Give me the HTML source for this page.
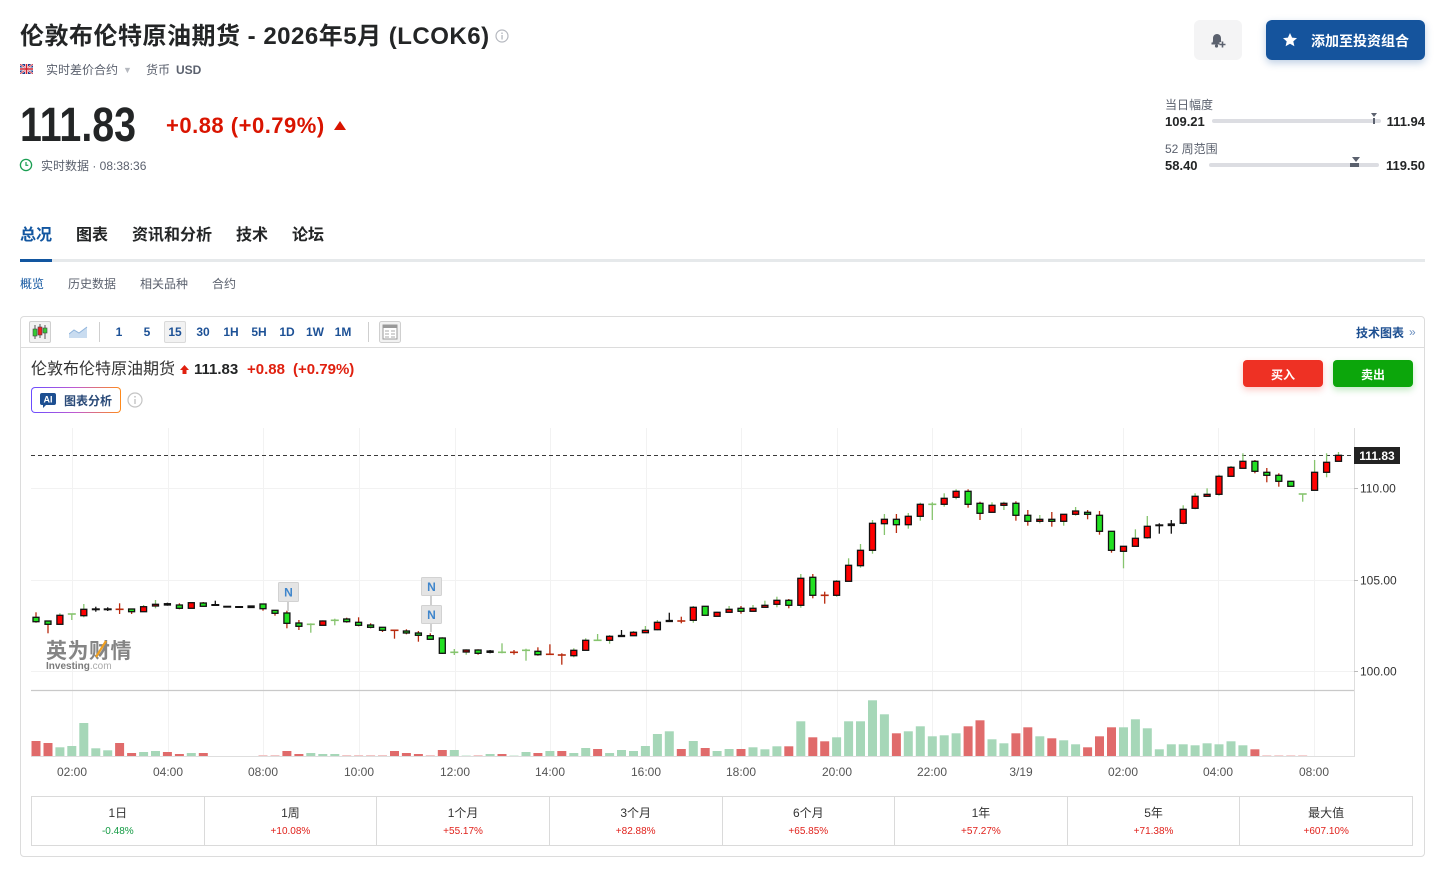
<!DOCTYPE html>
<html><head><meta charset="utf-8">
<style>
*{margin:0;padding:0;box-sizing:border-box}
html,body{width:1441px;height:869px;overflow:hidden;background:#fff}
body{font-family:"Liberation Sans","Noto Sans CJK SC",sans-serif;color:#232526;position:relative}
.t{position:absolute;white-space:nowrap;line-height:1}
.b{font-weight:bold}
.g{color:#5b616e}
.iv{position:absolute;top:326px;font-size:12px;font-weight:bold;color:#1d5196;transform:translateX(-50%);line-height:1}
.cell{flex:1;border-left:1px solid #dadada;text-align:center;position:relative}
.cell:first-child{border-left:none}
.cell .l{position:absolute;left:0;right:0;top:10px;font-size:12px;line-height:1;color:#333}
.cell .v{position:absolute;left:0;right:0;top:30px;font-size:10px;line-height:1;color:#e0211b}
</style></head><body>

<!-- Header -->
<div class="t b" style="left:20px;top:25px;font-size:24px;letter-spacing:0.5px;color:#232526">伦敦布伦特原油期货 - 2026年5月 (LCOK6)</div>
<svg style="position:absolute;left:495px;top:29px" width="14" height="14"><circle cx="7" cy="7" r="6" fill="none" stroke="#b5b8bf" stroke-width="1.2"/><rect x="6.4" y="6" width="1.3" height="4.5" fill="#b5b8bf"/><circle cx="7" cy="4.2" r="0.8" fill="#b5b8bf"/></svg>

<svg style="position:absolute;left:20px;top:64px" width="13" height="10" viewBox="0 0 13 10"><rect width="13" height="10" fill="#1f3f8f"/><path d="M0 0L13 10M13 0L0 10" stroke="#fff" stroke-width="2"/><path d="M0 0L13 10M13 0L0 10" stroke="#d0202f" stroke-width="0.8"/><path d="M6.5 0V10M0 5H13" stroke="#fff" stroke-width="3"/><path d="M6.5 0V10M0 5H13" stroke="#d0202f" stroke-width="1.6"/></svg>
<div class="t g" style="left:46px;top:64px;font-size:12px">实时差价合约</div>
<div class="t" style="left:123px;top:66px;font-size:9px;color:#b5b8bf">▼</div>
<div class="t g" style="left:146px;top:64px;font-size:12px">货币</div>
<div class="t b g" style="left:176px;top:64px;font-size:12px">USD</div>

<div class="t b" style="left:20px;top:102px;font-size:48px;letter-spacing:0px;transform:scaleX(0.82);transform-origin:0 0;color:#232526">111.83</div>
<div class="t b" style="left:166px;top:115px;font-size:22px;letter-spacing:0.5px;color:#d91400">+0.88 (+0.79%)</div>
<div style="position:absolute;left:334px;top:121px;width:0;height:0;border-left:6px solid transparent;border-right:6px solid transparent;border-bottom:9px solid #d91400"></div>

<svg style="position:absolute;left:19px;top:158px" width="14" height="14"><circle cx="7" cy="7" r="5.6" fill="none" stroke="#1a9e52" stroke-width="1.3"/><path d="M7 4V7.3H9.3" fill="none" stroke="#1a9e52" stroke-width="1.2"/></svg>
<div class="t g" style="left:41px;top:160px;font-size:12px">实时数据 · 08:38:36</div>

<!-- right header -->
<div style="position:absolute;left:1194px;top:20px;width:48px;height:40px;background:#f4f4f5;border-radius:6px"></div>
<svg style="position:absolute;left:1208px;top:31px" width="20" height="18" viewBox="0 0 20 18"><path d="M4 12.5C5 11.5 5 10 5 7.5C5 4.8 6.6 3 9 3C11.4 3 13 4.8 13 7.5C13 9 13 10 13.3 11L4 12.5Z" fill="#5b616e"/><rect x="3.5" y="11.5" width="8" height="2" fill="#5b616e"/><circle cx="8.5" cy="15" r="1.6" fill="#5b616e"/><path d="M14.5 10.5V16.5M11.5 13.5H17.5" stroke="#5b616e" stroke-width="1.6"/></svg>
<div style="position:absolute;left:1266px;top:20px;width:159px;height:40px;background:#15549d;border-radius:6px;box-shadow:0 3px 8px rgba(21,84,157,0.28)"></div>
<svg style="position:absolute;left:1282px;top:32px" width="16" height="16" viewBox="0 0 16 16"><path d="M8 1L10.1 5.6L15 6.1L11.3 9.4L12.4 14.3L8 11.7L3.6 14.3L4.7 9.4L1 6.1L5.9 5.6Z" fill="#fff"/></svg>
<div class="t b" style="left:1311px;top:34px;font-size:14px;color:#fff">添加至投资组合</div>

<div class="t g" style="left:1165px;top:99px;font-size:12px">当日幅度</div>
<div class="t b" style="left:1165px;top:115px;font-size:13px">109.21</div>
<div style="position:absolute;left:1212px;top:119px;width:169px;height:4px;background:#dcdde2;border-radius:2px"></div>
<div style="position:absolute;left:1373px;top:118px;width:2px;height:6px;background:#5b616e"></div>
<div style="position:absolute;left:1371px;top:113px;width:0;height:0;border-left:3px solid transparent;border-right:3px solid transparent;border-top:4px solid #5b616e"></div>
<div class="t b" style="right:16px;top:115px;font-size:13px">111.94</div>

<div class="t g" style="left:1165px;top:143px;font-size:12px">52 周范围</div>
<div class="t b" style="left:1165px;top:159px;font-size:13px">58.40</div>
<div style="position:absolute;left:1209px;top:163px;width:170px;height:4px;background:#dcdde2;border-radius:2px"></div>
<div style="position:absolute;left:1350px;top:163px;width:9px;height:4px;background:#5b616e"></div>
<div style="position:absolute;left:1352px;top:157px;width:0;height:0;border-left:4px solid transparent;border-right:4px solid transparent;border-top:5px solid #5b616e"></div>
<div class="t b" style="right:16px;top:159px;font-size:13px">119.50</div>

<!-- tabs -->
<div class="t b" style="left:20px;top:228px;font-size:16px;color:#1256a0">总况</div>
<div class="t b" style="left:76px;top:228px;font-size:16px">图表</div>
<div class="t b" style="left:132px;top:228px;font-size:16px">资讯和分析</div>
<div class="t b" style="left:236px;top:228px;font-size:16px">技术</div>
<div class="t b" style="left:292px;top:228px;font-size:16px">论坛</div>
<div style="position:absolute;left:20px;top:259px;width:1405px;height:3px;background:#e6e9eb"></div>
<div style="position:absolute;left:20px;top:259px;width:32px;height:3px;background:#1256a0"></div>

<div class="t" style="left:20px;top:278px;font-size:12px;color:#1256a0">概览</div>
<div class="t g" style="left:68px;top:278px;font-size:12px">历史数据</div>
<div class="t g" style="left:140px;top:278px;font-size:12px">相关品种</div>
<div class="t g" style="left:212px;top:278px;font-size:12px">合约</div>

<!-- chart container -->
<div style="position:absolute;left:20px;top:316px;width:1405px;height:541px;border:1px solid #dcdcdc;border-radius:4px"></div>
<div style="position:absolute;left:21px;top:347px;width:1403px;height:1px;background:#dcdcdc"></div>

<!-- toolbar -->
<div style="position:absolute;left:29px;top:321px;width:22px;height:22px;border:1px solid #cfcfcf;background:#f2f2f2;border-radius:2px"></div>
<svg style="position:absolute;left:29px;top:321px" width="22" height="22"><path d="M6 4V18M11 3V17M16 4V18" stroke="#555" stroke-width="1"/><rect x="4" y="8" width="4" height="7" fill="#33cc33" stroke="#444" stroke-width="0.6"/><rect x="9" y="6" width="4" height="8" fill="#ee2222" stroke="#444" stroke-width="0.6"/><rect x="14" y="7" width="4" height="5" fill="#33cc33" stroke="#444" stroke-width="0.6"/></svg>
<svg style="position:absolute;left:69px;top:325px" width="19" height="14"><path d="M0 9L5 5L10 8L18 2V13H0Z" fill="#c9dcf0"/><path d="M0 9L5 5L10 8L18 2" fill="none" stroke="#8fb4dc" stroke-width="1"/></svg>
<div style="position:absolute;left:99px;top:322px;width:1px;height:20px;background:#cfcfcf"></div>
<div style="position:absolute;left:164px;top:321px;width:22px;height:22px;background:#f2f2f2;border:1px solid #dadada;border-radius:2px"></div>
<div class="iv" style="left:119px">1</div>
<div class="iv" style="left:147px">5</div>
<div class="iv" style="left:175px">15</div>
<div class="iv" style="left:203px">30</div>
<div class="iv" style="left:231px">1H</div>
<div class="iv" style="left:259px">5H</div>
<div class="iv" style="left:287px">1D</div>
<div class="iv" style="left:315px">1W</div>
<div class="iv" style="left:343px">1M</div>
<div style="position:absolute;left:368px;top:322px;width:1px;height:20px;background:#cfcfcf"></div>
<svg style="position:absolute;left:379px;top:321px" width="22" height="22"><rect x="0.5" y="0.5" width="21" height="21" rx="2" fill="#f2f2f2" stroke="#cfcfcf"/><rect x="4" y="4" width="14" height="14" fill="#fff" stroke="#999"/><rect x="4" y="4" width="14" height="3" fill="#999"/><path d="M6 10H10M6 13H10M6 16H10M12 10H16M12 13H16M12 16H16" stroke="#aaa" stroke-width="1"/></svg>
<div class="t b" style="left:1356px;top:327px;font-size:12px;color:#1d4f91">技术图表</div>
<div class="t" style="left:1409px;top:326px;font-size:12px;color:#6b8fbf">»</div>

<!-- chart header -->
<div class="t" style="left:31px;top:362px;font-size:16px;color:#333">伦敦布伦特原油期货</div>
<svg style="position:absolute;left:179px;top:364px" width="11" height="11"><path d="M5.5 1L10 6H7.5V10H3.5V6H1Z" fill="#e0200f"/></svg>
<div class="t b" style="left:194px;top:362px;font-size:15px;color:#232526">111.83</div>
<div class="t b" style="left:247px;top:362px;font-size:15px;color:#e0200f">+0.88</div>
<div class="t b" style="left:293px;top:362px;font-size:15px;color:#e0200f">(+0.79%)</div>

<div style="position:absolute;left:31px;top:387px;width:90px;height:26px;border-radius:4px;background:linear-gradient(90deg,#6a4cff,#c05bd0 50%,#ff8a1a)"></div>
<div style="position:absolute;left:32px;top:388px;width:88px;height:24px;border-radius:3px;background:#fff"></div>
<svg style="position:absolute;left:40px;top:393px" width="16" height="15"><path d="M2 0H14Q16 0 16 2V10Q16 12 14 12H6L3 15V12H2Q0 12 0 10V2Q0 0 2 0Z" fill="#1d4f91"/><text x="8" y="9.5" text-anchor="middle" font-family="Liberation Sans" font-weight="bold" font-size="9" fill="#fff">AI</text></svg>
<div class="t b" style="left:64px;top:395px;font-size:12px;color:#2a4a78">图表分析</div>
<svg style="position:absolute;left:127px;top:392px" width="16" height="16"><circle cx="8" cy="8" r="7" fill="none" stroke="#c4c4c4" stroke-width="1.2"/><rect x="7.3" y="7" width="1.4" height="5" fill="#c4c4c4"/><circle cx="8" cy="4.8" r="0.9" fill="#c4c4c4"/></svg>

<div style="position:absolute;left:1243px;top:360px;width:80px;height:27px;background:#ee3124;border-radius:4px;box-shadow:0 3px 7px rgba(238,49,36,0.25)"></div>
<div class="t b" style="left:1243px;width:80px;text-align:center;top:369px;font-size:12px;color:#fff">买入</div>
<div style="position:absolute;left:1333px;top:360px;width:80px;height:27px;background:#0ca60b;border-radius:4px;box-shadow:0 3px 7px rgba(12,166,11,0.25)"></div>
<div class="t b" style="left:1333px;width:80px;text-align:center;top:369px;font-size:12px;color:#fff">卖出</div>

<!-- chart svg -->
<svg style="position:absolute;left:0;top:0" width="1441" height="869">
  <g stroke="#f2f2f2" stroke-width="1">
    <line x1="31" x2="1354" y1="488.5" y2="488.5"/>
    <line x1="31" x2="1354" y1="580.5" y2="580.5"/>
    <line x1="31" x2="1354" y1="671.5" y2="671.5"/>
    <line x1="72.5" x2="72.5" y1="428" y2="756"/>
    <line x1="168.5" x2="168.5" y1="428" y2="756"/>
    <line x1="263.5" x2="263.5" y1="428" y2="756"/>
    <line x1="359.5" x2="359.5" y1="428" y2="756"/>
    <line x1="455.5" x2="455.5" y1="428" y2="756"/>
    <line x1="550.5" x2="550.5" y1="428" y2="756"/>
    <line x1="646.5" x2="646.5" y1="428" y2="756"/>
    <line x1="741.5" x2="741.5" y1="428" y2="756"/>
    <line x1="837.5" x2="837.5" y1="428" y2="756"/>
    <line x1="932.5" x2="932.5" y1="428" y2="756"/>
    <line x1="1021.5" x2="1021.5" y1="428" y2="756"/>
    <line x1="1123.5" x2="1123.5" y1="428" y2="756"/>
    <line x1="1218.5" x2="1218.5" y1="428" y2="756"/>
    <line x1="1314.5" x2="1314.5" y1="428" y2="756"/>
  </g>
  <line x1="31" x2="1354" y1="690.5" y2="690.5" stroke="#c9c9c9" stroke-width="1.3"/>
  <line x1="31" x2="1354" y1="756.5" y2="756.5" stroke="#dedede" stroke-width="1"/>
  <line x1="1354.5" x2="1354.5" y1="428" y2="757" stroke="#dedede" stroke-width="1"/>
  <g stroke="#bbb"><line x1="1354" x2="1358" y1="488.5" y2="488.5"/><line x1="1354" x2="1358" y1="580.5" y2="580.5"/><line x1="1354" x2="1358" y1="671.5" y2="671.5"/></g>
  <g font-family="Liberation Sans" font-size="12" fill="#333">
    <text x="1360" y="492.5">110.00</text>
    <text x="1360" y="584.5">105.00</text>
    <text x="1360" y="675.5">100.00</text>
  </g>
  <g font-family="Liberation Sans" font-size="12" fill="#555" text-anchor="middle">
    <text x="72" y="776">02:00</text><text x="168" y="776">04:00</text><text x="263" y="776">08:00</text>
    <text x="359" y="776">10:00</text><text x="455" y="776">12:00</text><text x="550" y="776">14:00</text>
    <text x="646" y="776">16:00</text><text x="741" y="776">18:00</text><text x="837" y="776">20:00</text>
    <text x="932" y="776">22:00</text><text x="1021" y="776">3/19</text><text x="1123" y="776">02:00</text>
    <text x="1218" y="776">04:00</text><text x="1314" y="776">08:00</text>
  </g>
  <!-- watermark -->
  <text x="46" y="658" font-family="Noto Sans CJK SC,sans-serif" font-weight="bold" font-size="21" fill="#858585" letter-spacing="0.5">英为财情</text>
  <path d="M96 657L106 641" stroke="#f0a020" stroke-width="2.2"/>
  <text x="46" y="669" font-family="Liberation Sans" font-weight="bold" font-size="10" fill="#7a7a7a">Investing<tspan font-weight="normal" fill="#aaa">.com</tspan></text>
  <line x1="31" x2="1354" y1="455.5" y2="455.5" stroke="#3a3a3a" stroke-width="1" stroke-dasharray="4,3"/>
  <g id="vol"></g>
  <g id="cdl"></g>
  <!-- N flags -->
  <g stroke="#cfcfcf" stroke-width="2"><line x1="288" x2="288" y1="601" y2="611"/><line x1="431" x2="431" y1="595" y2="605"/><line x1="431" x2="431" y1="623" y2="632"/></g>
  <g fill="#e4e4e4" stroke="#d2d2d2" stroke-width="1">
    <rect x="278.5" y="582.5" width="20" height="19" rx="1"/>
    <rect x="421.5" y="577.5" width="20" height="18" rx="1"/>
    <rect x="421.5" y="605.5" width="20" height="18" rx="1"/>
  </g>
  <g font-family="Liberation Sans" font-weight="bold" font-size="12" fill="#3f86cc" text-anchor="middle">
    <text x="288.5" y="596.5">N</text><text x="431.5" y="591">N</text><text x="431.5" y="619">N</text>
  </g>
  <rect x="1354" y="447" width="46" height="17" fill="#222"/>
  <text x="1377" y="460" text-anchor="middle" font-family="Liberation Sans" font-weight="bold" font-size="12" fill="#fff">111.83</text>
</svg>

<!-- stats -->
<div style="position:absolute;left:31px;top:796px;width:1382px;height:50px;border:1px solid #dadada;display:flex">
  <div class="cell"><div class="l">1日</div><div class="v" style="color:#139a43">-0.48%</div></div>
  <div class="cell"><div class="l">1周</div><div class="v">+10.08%</div></div>
  <div class="cell"><div class="l">1个月</div><div class="v">+55.17%</div></div>
  <div class="cell"><div class="l">3个月</div><div class="v">+82.88%</div></div>
  <div class="cell"><div class="l">6个月</div><div class="v">+65.85%</div></div>
  <div class="cell"><div class="l">1年</div><div class="v">+57.27%</div></div>
  <div class="cell"><div class="l">5年</div><div class="v">+71.38%</div></div>
  <div class="cell"><div class="l">最大值</div><div class="v">+607.10%</div></div>
</div>

<script>
(function(){
var K=[
['d',617.3,621.7,612.3,622.7],['d',621,624.3,621,633.3],['u',615.3,624.3,613.3,624.3],['U',614,614,614,620],['u',609.3,615.7,604,617.3],
['k',609.3,609.3,606.7,611.7],['k',609.3,609.3,607.3,611],['D',609.3,609.3,603.3,614],['d',609,611.7,609,614],['u',606.7,611.7,605,611.7],
['u',604.3,606,600,608.3],['k',603.7,605,602.7,605.7],['d',605,608.3,603.3,609.3],['u',602.7,608.3,602.7,608.3],['d',603,606.3,602,606.7],
['k',605,605,600.7,605],['k',606.7,606.7,606.7,606.7],['k',607,607,607,607],['k',606,607.5,606,607.5],['d',604,608.7,604,610.7],
['d',610.3,613.3,610.3,615.7],['d',613,623.3,610.7,628.3],['d',623,626.3,620,630],['U',624.3,624.3,623.3,632.7],['u',621,625.3,620.3,625.3],
['U',620.3,620.3,618.7,625.3],['d',619,621.7,617.7,622.7],['d',622.3,625.3,617.3,626.3],['d',625,627.3,623.3,628.3],['d',627.3,630.3,627.3,632],
['D',630.3,630.3,630.3,638.7],['d',631,633,629.3,634.3],['d',633,635.3,631,641.7],['d',635.7,639.3,633.3,639.3],['d',638,653.3,637.3,654],
['U',652.3,652.3,649,655],['u',650,652,649.3,654.7],['d',650,653.3,649.3,654.7],['k',651,652.3,650,653.3],['U',652.3,652.3,643.3,653.3],
['D',652.3,652.3,650,654.7],['U',650.3,650.3,648.7,660.7],['d',651.3,654.7,647.3,655.7],['D',654.3,654.3,644.3,654.3],['D',655,655,653.3,664.7],
['u',650.3,655.7,648.3,657.3],['u',640.3,650.3,638.3,650.3],['U',640.3,640.3,634,641],['u',636.3,640.3,635,643.7],['k',635.5,636.5,630,637],
['u',632.3,635.7,631,635.7],['u',630.3,632.7,626,632.7],['u',622.3,629.7,620,630.3],['k',620.5,621.5,612.7,621.5],['D',621,621,616.7,623.3],
['u',607.3,620.3,606,622.7],['d',606.3,615.3,606.3,615.3],['u',612.3,616.3,611.7,616.3],['u',609.3,612.3,606,612.3],['d',608.3,611.3,606,613.7],
['u',608.3,611.3,605,611.3],['u',605.3,607.3,600.7,607.3],['u',600.3,604.3,596.7,607.3],['d',600.3,605.3,599,608.3],['u',578.3,605.3,574,607.7],
['d',577.3,595.3,574,598.3],['D',595.3,595.3,591.7,603.7],['u',581.3,595.3,580,596.7],['u',565.3,581.3,558.3,581.3],['u',550.3,565.7,544,567.7],
['u',523.3,550.3,520,553.7],['u',519.3,523.7,514,535],['d',519.3,524.7,514,533],['u',516.3,524.7,513,528.7],['u',504.3,516.3,502.7,520.7],
['U',504.3,504.3,502.3,520],['u',498.3,504.3,493.3,506.7],['u',491.3,497.3,489.3,499.3],['d',491.3,504.3,489.3,507.7],['d',503.3,513.3,501.7,520],
['u',505.3,512.3,502.3,512.3],['u',503.3,505.3,501.7,510],['d',503.3,515.3,501.3,520.7],['d',515.3,521.3,510,525.7],['u',519.3,521.3,515,523.3],
['d',519.3,521.3,512,526.7],['u',514.3,521.3,514.3,525.7],['u',511,514.3,507,515.7],['d',512.3,514.3,510,519.3],['d',515.3,531.3,511,534.7],
['d',531.3,550.3,531.3,552.7],['u',546.3,551.3,546.3,568.3],['u',538.3,546.3,529.3,546.3],['u',526.3,537.7,516,538.7],['k',525.3,525.3,523.3,533.7],
['k',524,525.5,520,533.7],['u',509.3,523.3,505.3,524.3],['u',496.3,508.3,493.3,509.3],['u',494.3,496.3,488.3,496.3],['u',476.3,494.3,474.7,495.7],
['u',467.3,476.3,466,476.3],['u',461.3,468.3,453.3,468.3],['d',461.3,471.3,460,473.3],['d',472.3,475.3,468,482.3],['d',475.3,481.3,473.3,486.7],
['d',481.3,486.3,481.3,486.3],['U',494,494,494,501.7],['u',472.3,490.3,460,490.3],['u',462.3,472.3,453.3,477.3],['u',455.3,461.3,452,461.3]
];
var V=[[15,'r'],[13,'r'],[8.7,'g'],[10,'g'],[33,'g'],[7.7,'g'],[5.7,'g'],[13,'r'],[3,'r'],[4,'g'],
[5,'g'],[4,'r'],[2,'r'],[3,'g'],[3,'r'],[0],[0],[0],[0],[1,'p'],
[1,'p'],[5,'r'],[2,'r'],[3,'g'],[2,'g'],[2,'g'],[1,'p'],[1,'p'],[1,'p'],[1,'p'],
[5,'r'],[3,'r'],[2,'r'],[1,'p'],[6,'r'],[6,'g'],[0.8,'q'],[1,'p'],[2,'g'],[2,'r'],
[0.8,'q'],[4,'g'],[3,'r'],[5,'g'],[5,'r'],[3,'g'],[8,'g'],[7,'r'],[3,'g'],[6,'g'],
[5,'g'],[10,'g'],[22,'g'],[24.7,'g'],[7,'r'],[15,'g'],[8,'r'],[5,'g'],[7,'g'],[7,'r'],
[8.7,'g'],[6.7,'g'],[9.7,'g'],[9.7,'r'],[34.7,'g'],[18.7,'r'],[14.7,'r'],[18.7,'g'],[34.7,'g'],[34.7,'g'],
[55.7,'g'],[41.7,'g'],[22.7,'r'],[24.7,'g'],[29.7,'g'],[19.7,'g'],[20.7,'g'],[22.7,'g'],[29.7,'r'],[35.7,'r'],
[16.7,'g'],[12.7,'g'],[22.7,'r'],[28.7,'r'],[19.7,'g'],[17.7,'r'],[15.7,'g'],[11.7,'g'],[8.7,'r'],[19.7,'r'],
[28.7,'r'],[28.7,'g'],[36.7,'g'],[27.7,'g'],[6.7,'g'],[11.7,'g'],[11.7,'g'],[10.7,'g'],[12.7,'g'],[11.7,'g'],
[14.7,'g'],[10.7,'g'],[6.7,'r'],[0.8,'p'],[0.8,'p'],[0.8,'p'],[0.8,'p'],[0],[0],[0]];
var x0=36,dx=11.95,s='',i;
var VC={r:'#e06b6b',g:'#a6d7b8',p:'#f3c4c4',q:'#d3ecdc'};
for(i=0;i<V.length;i++){var h=V[i][0];if(!h)continue;var x=x0+dx*i;
s+='<rect x="'+(x-4.5).toFixed(1)+'" y="'+(756-h).toFixed(1)+'" width="9" height="'+h+'" fill="'+VC[V[i][1]]+'"/>';}
document.getElementById('vol').innerHTML=s;
s='';
for(i=0;i<K.length;i++){var k=K[i],d=k[0],bt=k[1],bb=k[2],hi=k[3],lo=k[4],x=x0+dx*i,xs=x.toFixed(1);
var wc=(d=='u'||d=='U')?'#86c46e':(d=='d'||d=='D')?'#b82a0e':'#111';
if(lo-hi>0.5)s+='<line x1="'+xs+'" x2="'+xs+'" y1="'+hi+'" y2="'+lo+'" stroke="'+wc+'" stroke-width="1.3"/>';
if(bb-bt>=0.9){var f=d=='u'?'#ff0000':d=='d'?'#22e022':'#111';
s+='<rect x="'+(x-3).toFixed(1)+'" y="'+bt+'" width="6" height="'+(bb-bt).toFixed(1)+'" fill="'+f+'" stroke="#111" stroke-width="1.3"/>';}
else{s+='<line x1="'+(x-4).toFixed(1)+'" x2="'+(x+4).toFixed(1)+'" y1="'+bt+'" y2="'+bt+'" stroke="'+wc+'" stroke-width="'+(d=='k'?2:1.6)+'"/>';}
}
document.getElementById('cdl').innerHTML=s;
})();
</script>
</body></html>
